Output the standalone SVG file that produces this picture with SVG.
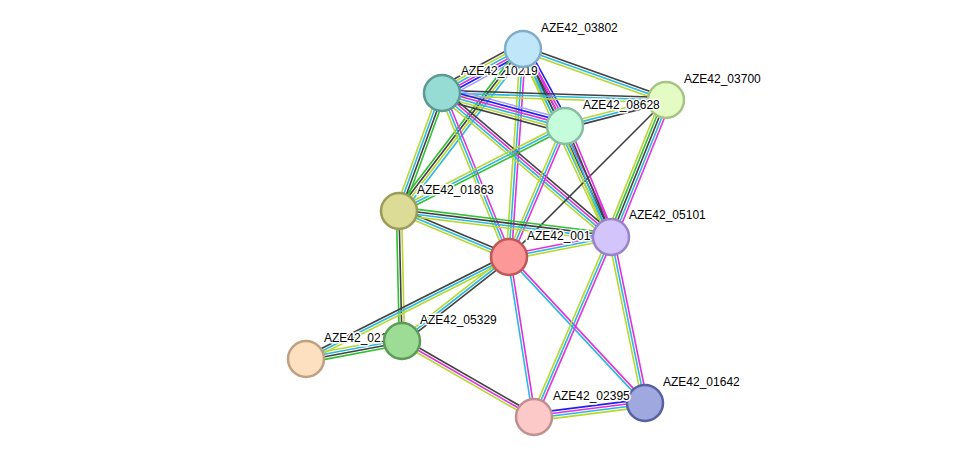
<svg xmlns="http://www.w3.org/2000/svg" width="976" height="463" viewBox="0 0 976 463">
<style>
line{stroke-width:1.6;fill:none}
.k{stroke:#404040}.c{stroke:#2ab8e0}.y{stroke:#b8d830}.m{stroke:#e030e0}.g{stroke:#30c030}.b{stroke:#2020f0}.lb{stroke:#a0a0ff}
.n circle{stroke-width:2.5}
text{font-family:"Liberation Sans",Arial,sans-serif;font-size:12px;fill:#000;stroke:#fff;stroke-width:3px;paint-order:stroke;stroke-linejoin:round}
</style>
<rect width="976" height="463" fill="#fff"/>
<g id="connectors">
<g transform="translate(523 49) rotate(151.5)"><line class="lb" x2="92" y1="-6.5" y2="-6.5"/><line class="b" x2="92" y1="-3.9" y2="-3.9"/><line class="m" x2="92" y1="-1.3" y2="-1.3"/><line class="c" x2="92" y1="1.3" y2="1.3"/><line class="y" x2="92" y1="3.9" y2="3.9"/><line class="k" x2="92" y1="6.5" y2="6.5"/></g>
<g transform="translate(523 49) rotate(19.6)"><line class="k" x2="152" y1="-2.6" y2="-2.6"/><line class="c" x2="152" y1="0" y2="0"/><line class="y" x2="152" y1="2.6" y2="2.6"/></g>
<g transform="translate(523 49) rotate(61.4)"><line class="b" x2="88" y1="-5.2" y2="-5.2"/><line class="m" x2="88" y1="-2.6" y2="-2.6"/><line class="k" x2="88" y1="0" y2="0"/><line class="c" x2="88" y1="2.6" y2="2.6"/><line class="y" x2="88" y1="5.2" y2="5.2"/></g>
<g transform="translate(523 49) rotate(127.4)"><line class="c" x2="204" y1="-3.9" y2="-3.9"/><line class="y" x2="204" y1="-1.3" y2="-1.3"/><line class="k" x2="204" y1="1.3" y2="1.3"/><line class="g" x2="204" y1="3.9" y2="3.9"/></g>
<g transform="translate(523 49) rotate(93.9)"><line class="m" x2="208" y1="-2.6" y2="-2.6"/><line class="c" x2="208" y1="0" y2="0"/><line class="y" x2="208" y1="2.6" y2="2.6"/></g>
<g transform="translate(523 49) rotate(64.9)"><line class="m" x2="208" y1="-3.9" y2="-3.9"/><line class="k" x2="208" y1="-1.3" y2="-1.3"/><line class="c" x2="208" y1="1.3" y2="1.3"/><line class="y" x2="208" y1="3.9" y2="3.9"/></g>
<g transform="translate(442 93) rotate(1.8)"><line class="k" x2="224" y1="-2.6" y2="-2.6"/><line class="c" x2="224" y1="0" y2="0"/><line class="y" x2="224" y1="2.6" y2="2.6"/></g>
<g transform="translate(442 93) rotate(15)"><line class="lb" x2="127" y1="-6.5" y2="-6.5"/><line class="b" x2="127" y1="-3.9" y2="-3.9"/><line class="m" x2="127" y1="-1.3" y2="-1.3"/><line class="c" x2="127" y1="1.3" y2="1.3"/><line class="y" x2="127" y1="3.9" y2="3.9"/><line class="k" x2="127" y1="6.5" y2="6.5"/></g>
<g transform="translate(442 93) rotate(110)"><line class="g" x2="126" y1="-3.9" y2="-3.9"/><line class="k" x2="126" y1="-1.3" y2="-1.3"/><line class="c" x2="126" y1="1.3" y2="1.3"/><line class="y" x2="126" y1="3.9" y2="3.9"/></g>
<g transform="translate(442 93) rotate(67.8)"><line class="m" x2="177" y1="-2.6" y2="-2.6"/><line class="c" x2="177" y1="0" y2="0"/><line class="y" x2="177" y1="2.6" y2="2.6"/></g>
<g transform="translate(442 93) rotate(40.4)"><line class="k" x2="222" y1="-3.9" y2="-3.9"/><line class="m" x2="222" y1="-1.3" y2="-1.3"/><line class="c" x2="222" y1="1.3" y2="1.3"/><line class="y" x2="222" y1="3.9" y2="3.9"/></g>
<g transform="translate(666 100) rotate(165.6)"><line class="k" x2="104" y1="-2.6" y2="-2.6"/><line class="c" x2="104" y1="0" y2="0"/><line class="y" x2="104" y1="2.6" y2="2.6"/></g>
<g transform="translate(666 100) rotate(135)"><line class="k" x2="222"/></g>
<g transform="translate(666 100) rotate(111.9)"><line class="m" x2="148" y1="-5.2" y2="-5.2"/><line class="c" x2="148" y1="-2.6" y2="-2.6"/><line class="k" x2="148" y1="0" y2="0"/><line class="g" x2="148" y1="2.6" y2="2.6"/><line class="y" x2="148" y1="5.2" y2="5.2"/></g>
<g transform="translate(565 126) rotate(152.9)"><line class="g" x2="186" y1="-2.6" y2="-2.6"/><line class="c" x2="186" y1="0" y2="0"/><line class="y" x2="186" y1="2.6" y2="2.6"/></g>
<g transform="translate(565 126) rotate(113.1)"><line class="m" x2="142" y1="-2.6" y2="-2.6"/><line class="c" x2="142" y1="0" y2="0"/><line class="y" x2="142" y1="2.6" y2="2.6"/></g>
<g transform="translate(565 126) rotate(67.5)"><line class="m" x2="120" y1="-3.9" y2="-3.9"/><line class="k" x2="120" y1="-1.3" y2="-1.3"/><line class="c" x2="120" y1="1.3" y2="1.3"/><line class="y" x2="120" y1="3.9" y2="3.9"/></g>
<g transform="translate(399 211) rotate(22.7)"><line class="k" x2="119" y1="-2.6" y2="-2.6"/><line class="c" x2="119" y1="0" y2="0"/><line class="y" x2="119" y1="2.6" y2="2.6"/></g>
<g transform="translate(399 211) rotate(7)"><line class="g" x2="214" y1="-3.9" y2="-3.9"/><line class="k" x2="214" y1="-1.3" y2="-1.3"/><line class="c" x2="214" y1="1.3" y2="1.3"/><line class="y" x2="214" y1="3.9" y2="3.9"/></g>
<g transform="translate(399 211) rotate(88.7)"><line class="y" x2="130" y1="-2.6" y2="-2.6"/><line class="k" x2="130" y1="0" y2="0"/><line class="g" x2="130" y1="2.6" y2="2.6"/></g>
<g transform="translate(509 257) rotate(-11.1)"><line class="m" x2="104" y1="-2.6" y2="-2.6"/><line class="c" x2="104" y1="0" y2="0"/><line class="y" x2="104" y1="2.6" y2="2.6"/></g>
<g transform="translate(509 257) rotate(141.9)"><line class="k" x2="136" y1="-2.6" y2="-2.6"/><line class="c" x2="136" y1="0" y2="0"/><line class="y" x2="136" y1="2.6" y2="2.6"/></g>
<g transform="translate(509 257) rotate(153.3)"><line class="y" x2="227" y1="-2.6" y2="-2.6"/><line class="c" x2="227" y1="0" y2="0"/><line class="k" x2="227" y1="2.6" y2="2.6"/></g>
<g transform="translate(509 257) rotate(81.1)"><line class="m" x2="162" y1="-1.3" y2="-1.3"/><line class="c" x2="162" y1="1.3" y2="1.3"/></g>
<g transform="translate(509 257) rotate(47)"><line class="m" x2="200" y1="-1.3" y2="-1.3"/><line class="c" x2="200" y1="1.3" y2="1.3"/></g>
<g transform="translate(611 237) rotate(113.2)"><line class="m" x2="196" y1="-2.6" y2="-2.6"/><line class="c" x2="196" y1="0" y2="0"/><line class="y" x2="196" y1="2.6" y2="2.6"/></g>
<g transform="translate(611 237) rotate(78.4)"><line class="m" x2="169" y1="-2.6" y2="-2.6"/><line class="c" x2="169" y1="0" y2="0"/><line class="y" x2="169" y1="2.6" y2="2.6"/></g>
<g transform="translate(402 341) rotate(169.4)"><line class="g" x2="98" y1="-3.9" y2="-3.9"/><line class="k" x2="98" y1="-1.3" y2="-1.3"/><line class="c" x2="98" y1="1.3" y2="1.3"/><line class="y" x2="98" y1="3.9" y2="3.9"/></g>
<g transform="translate(402 341) rotate(29.9)"><line class="k" x2="152" y1="-2.6" y2="-2.6"/><line class="m" x2="152" y1="0" y2="0"/><line class="y" x2="152" y1="2.6" y2="2.6"/></g>
<g transform="translate(534 417) rotate(-7.2)"><line class="b" x2="112" y1="-3.9" y2="-3.9"/><line class="m" x2="112" y1="-1.3" y2="-1.3"/><line class="c" x2="112" y1="1.3" y2="1.3"/><line class="y" x2="112" y1="3.9" y2="3.9"/></g>
</g>
<g id="labels-under">
<text x="461" y="75">AZE42_10219</text>
<text x="527" y="240">AZE42_001</text>
<text x="324" y="342">AZE42_021</text>
</g>
<g id="n03802" class="n"><circle cx="523" cy="49" r="18" fill="#c0e6fa" stroke="#80aec8"/></g>
<g id="n10219" class="n"><circle cx="442" cy="93" r="18" fill="#96dcd4" stroke="#5a9a92"/></g>
<g id="n03700" class="n"><circle cx="666" cy="100" r="18" fill="#e4fcc4" stroke="#a8c484"/></g>
<g id="n08628" class="n"><circle cx="565" cy="126" r="18" fill="#c4fcdc" stroke="#86c0a0"/></g>
<g id="n01863" class="n"><circle cx="399" cy="211" r="18" fill="#dcdc96" stroke="#9c9c5a"/></g>
<g id="n001" class="n"><circle cx="509" cy="257" r="18" fill="#fc9898" stroke="#c05858"/></g>
<g id="n05101" class="n"><circle cx="611" cy="237" r="18" fill="#d4c4fc" stroke="#9884c8"/></g>
<g id="n05329" class="n"><circle cx="402" cy="341" r="18" fill="#9cdc94" stroke="#5c9c58"/></g>
<g id="n021" class="n"><circle cx="306" cy="359" r="18" fill="#fce0c0" stroke="#c0a080"/></g>
<g id="n02395" class="n"><circle cx="534" cy="417" r="18" fill="#fcc8c8" stroke="#c09090"/></g>
<g id="n01642" class="n"><circle cx="645" cy="403" r="18" fill="#a0a8e0" stroke="#5860a0"/></g>
<g id="labels">
<text x="541" y="32">AZE42_03802</text>
<text x="684" y="83">AZE42_03700</text>
<text x="583" y="109">AZE42_08628</text>
<text x="417" y="194">AZE42_01863</text>
<text x="629" y="219">AZE42_05101</text>
<text x="420" y="324">AZE42_05329</text>
<text x="553" y="400">AZE42_02395</text>
<text x="663" y="386">AZE42_01642</text>
</g>
</svg>
